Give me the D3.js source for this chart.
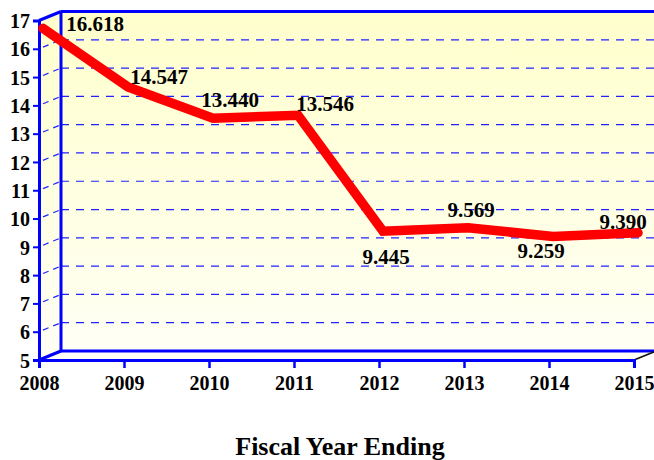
<!DOCTYPE html>
<html>
<head>
<meta charset="utf-8">
<script src="https://cdn.jsdelivr.net/npm/d3@7"></script>
<style>
  html, body { margin: 0; padding: 0; background: #fff; }
  svg { display: block; }
  svg text { font-family: "Liberation Serif", "Times New Roman", Times, Tinos, "Noto Serif", "DejaVu Serif", FreeSerif, "Nimbus Roman", "Nimbus Roman No9 L", serif !important; font-weight: bold; fill: #000; }
</style>
</head>
<body>
<svg id="chart" width="654" height="460"></svg>
<script>
// Fiscal year series
const years = ["2008", "2009", "2010", "2011", "2012", "2013", "2014", "2015"];
const values = [16.618, 14.547, 13.440, 13.546, 9.445, 9.569, 9.259, 9.390];
const yTicks = [5, 6, 7, 8, 9, 10, 11, 12, 13, 14, 15, 16, 17];
const xTitle = "Fiscal Year Ending";

// Label placement relative to each point (layout only)
const labelDx = [52, 31, 17, 27, 3, 3, -12, -15];
const labelDy = [3, -3, -11, -4, 33, -11, 21, -4];

const W = 654, H = 460;
const depthX = 22, depthY = -9;          // 3D wall offset
const front = { left: 39, right: 634, top: 20.5, bottom: 360 };
const lineShift = { x: 4, y: -3 };       // line drawn slightly into the depth

const svg = d3.select("#chart");

const x = d3.scalePoint().domain(years).range([front.left, front.right]);
const y = d3.scaleLinear().domain([5, 17]).range([front.bottom, front.top]);

// Background gradient
const defs = svg.append("defs");
const grad = defs.append("linearGradient").attr("id", "bg")
  .attr("x1", 0).attr("y1", 0).attr("x2", 0).attr("y2", 1);
grad.append("stop").attr("offset", "0%").attr("stop-color", "#ffffcc");
grad.append("stop").attr("offset", "100%").attr("stop-color", "#fffff6");

const backLeft = front.left + depthX;
const backTop = front.top + depthY;
const backBottom = front.bottom + depthY;

svg.append("path")
  .attr("d", d3.line()([
    [front.left, front.top], [backLeft, backTop], [W, backTop],
    [W, backBottom], [front.right + depthX, backBottom],
    [front.right, front.bottom], [front.left, front.bottom]
  ]) + "Z")
  .attr("fill", "url(#bg)");

// Gridlines: back wall and side wall
const gridVals = yTicks.filter(v => v > 5 && v < 17);
const grid = svg.append("g").attr("stroke", "#2222ff").attr("stroke-width", 1.2)
  .attr("stroke-dasharray", "8,7").attr("fill", "none");
grid.selectAll("line.back").data(gridVals).join("line").attr("class", "back")
  .attr("x1", backLeft).attr("x2", W)
  .attr("y1", d => y(d) + depthY).attr("y2", d => y(d) + depthY);
grid.selectAll("line.side").data(gridVals).join("line").attr("class", "side")
  .attr("stroke-dasharray", "6,5")
  .attr("x1", front.left + 4).attr("x2", backLeft)
  .attr("y1", d => y(d) + depthY * 4 / depthX).attr("y2", d => y(d) + depthY);

// Frame
const frame = svg.append("g").attr("stroke", "#0000ff").attr("stroke-width", 3).attr("fill", "none");
frame.append("line").attr("x1", backLeft).attr("x2", W).attr("y1", backTop).attr("y2", backTop);
frame.append("line").attr("x1", backLeft).attr("x2", backLeft).attr("y1", backTop).attr("y2", backBottom);
frame.append("line").attr("x1", front.left).attr("x2", backLeft).attr("y1", front.top).attr("y2", backTop);
frame.append("line").attr("x1", backLeft).attr("x2", W).attr("y1", backBottom).attr("y2", backBottom);
frame.append("line").attr("x1", front.left).attr("x2", backLeft).attr("y1", front.bottom).attr("y2", backBottom);
svg.append("line").attr("stroke", "#111").attr("stroke-width", 1.5)
  .attr("x1", front.right).attr("x2", front.right + depthX)
  .attr("y1", front.bottom).attr("y2", backBottom);

// Y axis (front)
const yAxis = svg.append("g").attr("transform", `translate(${front.left},0)`)
  .call(d3.axisLeft(y).tickValues(yTicks).tickSize(6).tickPadding(3).tickFormat(d3.format("d")));
yAxis.attr("font-family", null);
yAxis.select(".domain").attr("stroke", "#0000ff").attr("stroke-width", 3);
yAxis.selectAll(".tick line").attr("stroke", "#0000ff").attr("stroke-width", 2);
yAxis.selectAll(".tick text").attr("font-size", 20).attr("fill", "#000").attr("dy", "0.36em");

// X axis (front)
const xAxis = svg.append("g").attr("transform", `translate(0,${front.bottom})`)
  .call(d3.axisBottom(x).tickSize(8).tickPadding(8));
xAxis.attr("font-family", null);
xAxis.select(".domain").attr("stroke", "#0000ff").attr("stroke-width", 3);
xAxis.selectAll(".tick line").attr("stroke", "#0000ff").attr("stroke-width", 2.5);
xAxis.selectAll(".tick text").attr("font-size", 20).attr("fill", "#000");

// Series line
const pts = years.map((yr, i) => [x(yr) + lineShift.x, y(values[i]) + lineShift.y]);
svg.append("path")
  .attr("d", d3.line()(pts))
  .attr("fill", "none").attr("stroke", "#ff0000").attr("stroke-width", 9.5)
  .attr("stroke-linecap", "round").attr("stroke-linejoin", "miter");

// Value labels
svg.append("g").selectAll("text").data(values).join("text")
  .attr("x", (d, i) => pts[i][0] + labelDx[i])
  .attr("y", (d, i) => pts[i][1] + labelDy[i])
  .attr("text-anchor", "middle").attr("font-size", 21)
  .text(d => d3.format(".3f")(d));

// Axis title
svg.append("text").attr("x", 340).attr("y", 455).attr("text-anchor", "middle")
  .attr("font-size", 26).text(xTitle);
</script>
</body>
</html>
